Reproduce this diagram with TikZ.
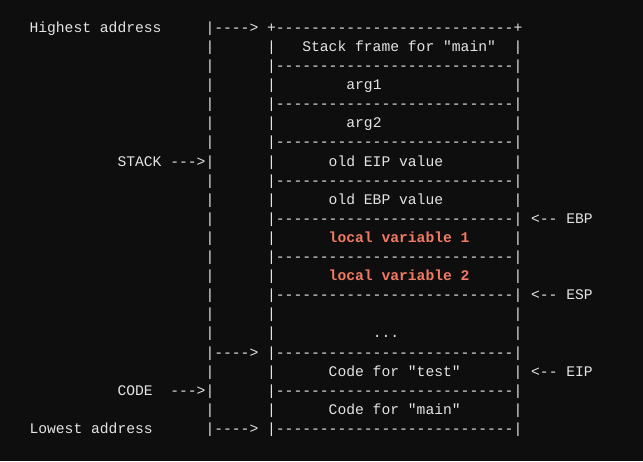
\documentclass[tikz,border=0pt]{standalone}
\usepackage{fontspec}
\setmonofont{Liberation Mono}[Ligatures=TeXOff]
\usepackage{xcolor}
\definecolor{bg}{HTML}{0E0E0E}
\definecolor{fg}{HTML}{E4E4E4}
\definecolor{hl}{HTML}{F27A63}
\newcommand\sk[1]{\kern#1\fontdimen2\font}
\newcommand\dashes{---------------------------}
\newcommand\hlt[1]{\textcolor{hl}{\bfseries #1}}
\begin{document}
\begin{tikzpicture}[x=0.75pt,y=-0.75pt,
  asciiline/.style={anchor=base west, inner sep=0pt, outer sep=0pt, text=fg,
    font=\ttfamily\fontsize{11}{13}\selectfont}]
\fill[bg] (0,0) rectangle (643,461);
\useasboundingbox (0,0) rectangle (643,461);
\node[asciiline] (r0)  at (29.5, 32.3) {Highest address\sk{5}|---->\sk{1}+\dashes+};
\node[asciiline] (r1)  at (29.5, 51.4) {\sk{20}|\sk{6}|\sk{3}Stack frame for "main"\sk{2}|};
\node[asciiline] (r2)  at (29.5, 70.5) {\sk{20}|\sk{6}|\dashes|};
\node[asciiline] (r3)  at (29.5, 89.6) {\sk{20}|\sk{6}|\sk{8}arg1\sk{15}|};
\node[asciiline] (r4)  at (29.5,108.7) {\sk{20}|\sk{6}|\dashes|};
\node[asciiline] (r5)  at (29.5,127.8) {\sk{20}|\sk{6}|\sk{8}arg2\sk{15}|};
\node[asciiline] (r6)  at (29.5,146.9) {\sk{20}|\sk{6}|\dashes|};
\node[asciiline] (r7)  at (29.5,166.0) {\sk{10}STACK --->|\sk{6}|\sk{6}old EIP value\sk{8}|};
\node[asciiline] (r8)  at (29.5,185.1) {\sk{20}|\sk{6}|\dashes|};
\node[asciiline] (r9)  at (29.5,204.2) {\sk{20}|\sk{6}|\sk{6}old EBP value\sk{8}|};
\node[asciiline] (r10) at (29.5,223.3) {\sk{20}|\sk{6}|\dashes|\sk{1}<-- EBP};
\node[asciiline] (r11) at (29.5,242.4) {\sk{20}|\sk{6}|\sk{6}\hlt{local variable 1}\sk{5}|};
\node[asciiline] (r12) at (29.5,261.5) {\sk{20}|\sk{6}|\dashes|};
\node[asciiline] (r13) at (29.5,280.6) {\sk{20}|\sk{6}|\sk{6}\hlt{local variable 2}\sk{5}|};
\node[asciiline] (r14) at (29.5,299.7) {\sk{20}|\sk{6}|\dashes|\sk{1}<-- ESP};
\node[asciiline] (r15) at (29.5,318.8) {\sk{20}|\sk{6}|\sk{27}|};
\node[asciiline] (r16) at (29.5,337.9) {\sk{20}|\sk{6}|\sk{11}...\sk{13}|};
\node[asciiline] (r17) at (29.5,357.0) {\sk{20}|---->\sk{1}|\dashes|};
\node[asciiline] (r18) at (29.5,376.1) {\sk{20}|\sk{6}|\sk{6}Code for "test"\sk{6}|\sk{1}<-- EIP};
\node[asciiline] (r19) at (29.5,395.2) {\sk{10}CODE\sk{2}--->|\sk{6}|\dashes|};
\node[asciiline] (r20) at (29.5,414.3) {\sk{20}|\sk{6}|\sk{6}Code for "main"\sk{6}|};
\node[asciiline] (r21) at (29.5,433.4) {Lowest address\sk{6}|---->\sk{1}|\dashes|};
\end{tikzpicture}
\end{document}
